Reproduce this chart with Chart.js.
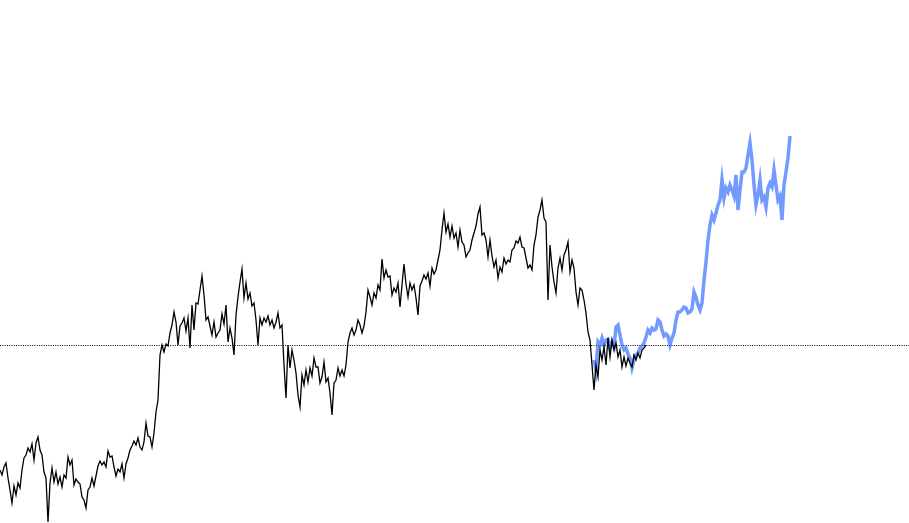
<!DOCTYPE html>
<html>
<head>
<meta charset="utf-8">
<script src="https://cdn.jsdelivr.net/npm/chart.js@4.4.1/dist/chart.umd.min.js"></script>
<style>
  html, body { margin: 0; padding: 0; background: #fff; }
  #wrap { width: 909px; height: 523px; position: relative; }
</style>
</head>
<body>
<div id="wrap"><canvas id="priceChart"></canvas></div>
<script>
// History (black), one value every step
const historyStart = 0;
const historyValues = [
  53, 48, 56, 60, 45, 33, 20, 37, 28, 40, 35, 53, 65, 68, 75, 71, 79, 63, 80, 86,
  73, 68, 51, 45, 1, 40, 55, 41, 51, 39, 46, 36, 48, 45, 66, 58, 63, 38, 44, 41,
  39, 26, 23, 15, 33, 36, 45, 37, 47, 57, 62, 58, 61, 56, 72, 66, 67, 56, 47, 54,
  51, 59, 45, 59, 65, 73, 77, 82, 78, 85, 76, 73, 81, 100, 87, 86, 76, 90, 111, 123,
  168, 178, 171, 179, 177, 190, 198, 211, 201, 178, 197, 200, 205, 192, 205, 175, 218, 193, 220, 219,
  233, 247, 228, 203, 206, 197, 188, 201, 186, 190, 193, 209, 199, 218, 181, 195, 185, 168, 208, 226,
  241, 254, 225, 240, 224, 230, 217, 220, 203, 178, 205, 198, 205, 201, 207, 198, 203, 195, 201, 210,
  195, 198, 158, 125, 178, 155, 173, 163, 150, 128, 116, 148, 138, 153, 141, 155, 147, 165, 156, 156,
  140, 146, 161, 141, 145, 130, 108, 140, 143, 155, 147, 153, 147, 158, 181, 190, 195, 188, 193, 203,
  198, 190, 197, 211, 233, 226, 218, 230, 225, 238, 233, 264, 245, 253, 246, 247, 228, 235, 231, 240,
  216, 238, 259, 239, 226, 240, 233, 238, 225, 208, 237, 242, 248, 244, 250, 237, 255, 249, 253, 263,
  273, 293, 310, 291, 299, 286, 297, 285, 290, 276, 293, 281, 278, 266, 270, 273, 283, 290, 297, 309,
  316, 288, 290, 283, 266, 283, 267, 256, 263, 245, 256, 251, 265, 259, 263, 261, 273, 275, 282, 280,
  286, 276, 275, 265, 255, 258, 253, 278, 288, 306, 313, 323, 305, 301, 223, 278, 256, 241, 230, 255,
  265, 253, 268, 273, 281, 251, 263, 255, 231, 218, 235, 233, 223, 210, 191, 183, 158, 133, 158, 146,
  173, 163, 176, 158, 185, 166, 183, 173, 180, 166, 173, 156, 166, 157, 165, 160, 156, 168, 163, 170,
  165, 173, 175, 178
];

// Projection (blue)
const projectionStart = 297;
const projectionValues = [
  163, 153, 181, 178, 185, 178, 183, 184, 175, 181, 176, 196, 198, 188, 178, 173, 175, 169, 165, 155,
  163, 168, 170, 175, 177, 180, 186, 193, 190, 195, 193, 194, 203, 201, 193, 187, 189, 187, 178, 185,
  190, 203, 211, 211, 213, 216, 215, 210, 211, 214, 231, 226, 218, 213, 220, 243, 261, 283, 298, 308,
  303, 310, 318, 323, 343, 325, 335, 331, 338, 333, 327, 348, 313, 333, 351, 351, 355, 368, 380, 363,
  338, 318, 328, 343, 323, 326, 316, 335, 340, 336, 353, 338, 323, 327, 303, 338, 351, 365, 387
];

// Dotted reference level
const referenceLevel = 177.5;

const xMax = 454.5;
const yMin = 0;
const yMax = 523;

function toPoints(start, values) {
  return values.map((v, i) => ({ x: start + i, y: v }));
}

const ctx = document.getElementById('priceChart').getContext('2d');
const priceChart = new Chart(ctx, {
  type: 'line',
  data: {
    datasets: [
      {
        label: 'History',
        data: toPoints(historyStart, historyValues),
        borderColor: '#000000',
        borderWidth: 1.3,
        pointRadius: 0,
        tension: 0
      },
      {
        label: 'Projection',
        data: toPoints(projectionStart, projectionValues),
        borderColor: 'rgba(40, 100, 255, 0.65)',
        borderWidth: 3.5,
        pointRadius: 0,
        tension: 0
      },
      {
        label: 'Reference',
        data: [{ x: 0, y: referenceLevel }, { x: xMax, y: referenceLevel }],
        borderColor: '#000000',
        borderWidth: 1,
        borderDash: [1, 1.3],
        pointRadius: 0
      }
    ]
  },
  options: {
    responsive: true,
    maintainAspectRatio: false,
    animation: false,
    layout: { padding: 0 },
    scales: {
      x: { type: 'linear', min: 0, max: xMax, display: false },
      y: { min: yMin, max: yMax, display: false }
    },
    plugins: {
      legend: { display: false },
      tooltip: { enabled: false }
    }
  }
});
</script>
</body>
</html>
